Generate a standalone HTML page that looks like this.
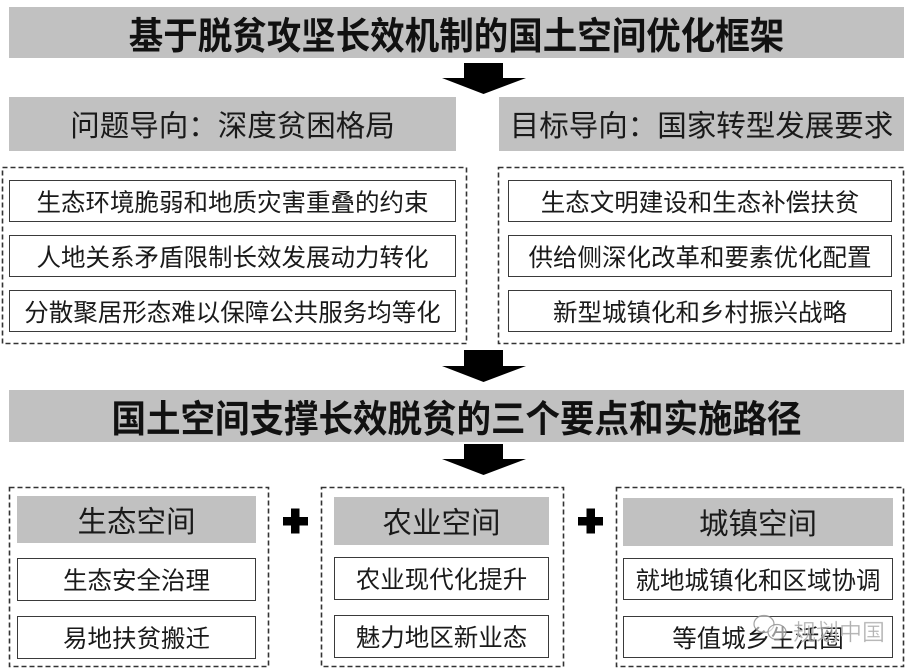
<!DOCTYPE html>
<html>
<head>
<meta charset="utf-8">
<style>
  html,body{margin:0;padding:0;background:#fff;}
  body{width:912px;height:670px;position:relative;overflow:hidden;
       font-family:"Liberation Sans","Noto Sans CJK SC",sans-serif;color:#1a1a1a;}
  .abs{position:absolute;box-sizing:border-box;display:flex;align-items:center;justify-content:center;white-space:nowrap;}
  .gray{background:#c1c1c1;}
  .title{font-weight:700;font-size:34.5px;color:#111;}
  .title span{display:inline-block;transform:scaleY(1.08);}
  .hdr{font-size:29.5px;color:#1a1a1a;}
  .box{border:1.6px solid #3a3a3a;background:#fff;font-size:24.5px;color:#1a1a1a;}
  .bh{font-size:29.5px;color:#1a1a1a;}
  svg{position:absolute;left:0;top:0;}
</style>
</head>
<body>

<!-- Banner 1 -->
<div class="abs gray title" style="left:9px;top:7px;width:895px;height:51px;"><span>基于脱贫攻坚长效机制的国土空间优化框架</span></div>

<!-- Headers row -->
<div class="abs gray hdr" style="left:9px;top:97px;width:447px;height:54px;">问题导向：深度贫困格局</div>
<div class="abs gray hdr" style="left:499px;top:97px;width:405px;height:54px;">目标导向：国家转型发展要求</div>

<!-- Inner boxes left -->
<div class="abs box" style="left:9px;top:180px;width:447px;height:42px;">生态环境脆弱和地质灾害重叠的约束</div>
<div class="abs box" style="left:9px;top:235px;width:447px;height:42px;">人地关系矛盾限制长效发展动力转化</div>
<div class="abs box" style="left:9px;top:290px;width:447px;height:42px;">分散聚居形态难以保障公共服务均等化</div>

<!-- Inner boxes right -->
<div class="abs box" style="left:508px;top:180px;width:384px;height:42px;">生态文明建设和生态补偿扶贫</div>
<div class="abs box" style="left:508px;top:235px;width:384px;height:42px;">供给侧深化改革和要素优化配置</div>
<div class="abs box" style="left:508px;top:290px;width:384px;height:42px;">新型城镇化和乡村振兴战略</div>

<!-- Banner 2 -->
<div class="abs gray title" style="left:9px;top:390px;width:895px;height:52px;"><span>国土空间支撑长效脱贫的三个要点和实施路径</span></div>

<!-- Bottom column 1 -->
<div class="abs gray bh" style="left:17px;top:496px;width:239px;height:47px;">生态空间</div>
<div class="abs box" style="left:17px;top:558px;width:239px;height:43px;">生态安全治理</div>
<div class="abs box" style="left:17px;top:616px;width:239px;height:43px;">易地扶贫搬迁</div>

<!-- Bottom column 2 -->
<div class="abs gray bh" style="left:334px;top:497px;width:215px;height:48px;">农业空间</div>
<div class="abs box" style="left:334px;top:557px;width:215px;height:43px;">农业现代化提升</div>
<div class="abs box" style="left:334px;top:615px;width:215px;height:43px;">魅力地区新业态</div>

<!-- Bottom column 3 -->
<div class="abs gray bh" style="left:623px;top:498px;width:270px;height:48px;">城镇空间</div>
<div class="abs box" style="left:623px;top:558px;width:270px;height:42px;">就地城镇化和区域协调</div>
<div class="abs box" style="left:623px;top:616px;width:270px;height:42px;">等值城乡生活圈</div>

<svg width="912" height="670" viewBox="0 0 912 670">
  <g fill="none" stroke="#333" stroke-width="1.6" stroke-dasharray="5,3">
    <rect x="2.5" y="167.5" width="464" height="176"/>
    <rect x="498.5" y="167.5" width="405" height="176"/>
    <rect x="9.5" y="487.5" width="259" height="179"/>
    <rect x="321.5" y="487.5" width="242" height="179"/>
    <rect x="616.5" y="487.5" width="287" height="179"/>
  </g>
  <g fill="#000">
    <!-- Arrow 1 -->
    <polygon points="464,63 503,63 503,78 526,78 483.5,94 442,78 464,78"/>
    <!-- Arrow 2 -->
    <polygon points="464,350 503,350 503,366 526,366 483.5,382 442,366 464,366"/>
    <!-- Arrow 3 -->
    <polygon points="464,444 503,444 503,459 526,459 483.5,475 442,459 464,459"/>
    <!-- Plus 1 -->
    <rect x="283" y="517" width="25" height="8.5"/>
    <rect x="291" y="508.5" width="8.5" height="25"/>
    <!-- Plus 2 -->
    <rect x="578" y="517" width="25" height="8.5"/>
    <rect x="586.5" y="508.5" width="8.5" height="25"/>
  </g>
  <!-- watermark icon -->
  <g fill="rgba(255,255,255,0.55)" stroke="rgba(140,140,140,0.8)" stroke-width="1.2">
    <ellipse cx="764" cy="624" rx="10" ry="8.5"/>
    <ellipse cx="777" cy="632" rx="9" ry="7.5"/>
  </g>
  <text x="793" y="640" font-family="Noto Sans CJK SC, sans-serif" font-size="23" fill="rgba(150,150,150,0.75)" stroke="rgba(255,255,255,0.6)" stroke-width="0.6">规划中国</text>
</svg>

</body>
</html>
